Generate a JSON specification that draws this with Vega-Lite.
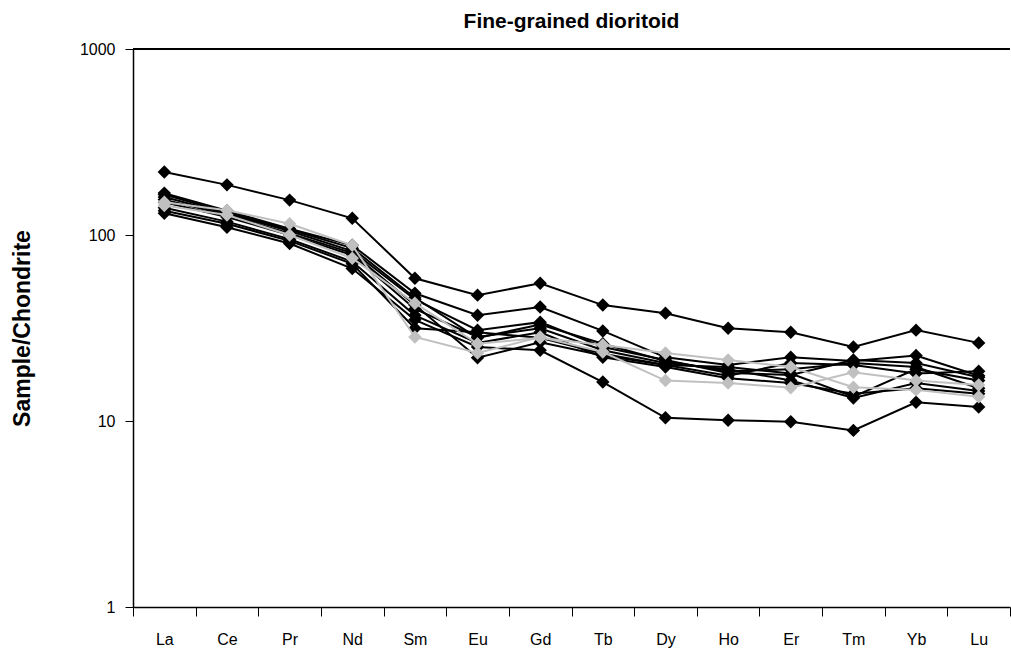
{
  "$schema": "https://vega.github.io/schema/vega-lite/v6.json",
  "autosize": "none",
  "width": 877,
  "height": 558,
  "padding": {"left": 133, "top": 49, "right": 1, "bottom": 46},
  "background": "white",
  "config": {
    "view": {"stroke": null},
    "font": "Liberation Sans",
    "axis": {"labelFont": "Liberation Sans", "titleFont": "Liberation Sans", "labelColor": "black", "titleColor": "black", "domainColor": "black", "tickColor": "black", "labelFontSize": 16, "grid": false, "domainWidth": 1.5}
  },
  "title": {"text": "Fine-grained dioritoid", "fontSize": 21, "fontWeight": "bold", "font": "Liberation Sans", "color": "black", "anchor": "middle", "frame": "group", "dx": 0, "dy": 29, "offset": 17, "baseline": "bottom"},
  "data": {"values": [
    {"s":"D1","el":"La","v":218},{"s":"D1","el":"Ce","v":186},{"s":"D1","el":"Pr","v":154},{"s":"D1","el":"Nd","v":123},{"s":"D1","el":"Sm","v":58.5},{"s":"D1","el":"Eu","v":47.5},{"s":"D1","el":"Gd","v":55},{"s":"D1","el":"Tb","v":42},{"s":"D1","el":"Dy","v":38},{"s":"D1","el":"Ho","v":31.5},{"s":"D1","el":"Er","v":30},{"s":"D1","el":"Tm","v":25},{"s":"D1","el":"Yb","v":30.8},{"s":"D1","el":"Lu","v":26.3},
    {"s":"D2","el":"La","v":131},{"s":"D2","el":"Ce","v":110},{"s":"D2","el":"Pr","v":90},{"s":"D2","el":"Nd","v":66},{"s":"D2","el":"Sm","v":35},{"s":"D2","el":"Eu","v":25},{"s":"D2","el":"Gd","v":24},{"s":"D2","el":"Tb","v":16.2},{"s":"D2","el":"Dy","v":10.4},{"s":"D2","el":"Ho","v":10.1},{"s":"D2","el":"Er","v":9.9},{"s":"D2","el":"Tm","v":8.9},{"s":"D2","el":"Yb","v":12.6},{"s":"D2","el":"Lu","v":11.9},
    {"s":"D3","el":"La","v":168},{"s":"D3","el":"Ce","v":135},{"s":"D3","el":"Pr","v":108},{"s":"D3","el":"Nd","v":88},{"s":"D3","el":"Sm","v":48.6},{"s":"D3","el":"Eu","v":37},{"s":"D3","el":"Gd","v":41},{"s":"D3","el":"Tb","v":30.5},{"s":"D3","el":"Dy","v":22},{"s":"D3","el":"Ho","v":20},{"s":"D3","el":"Er","v":22},{"s":"D3","el":"Tm","v":21},{"s":"D3","el":"Yb","v":22.5},{"s":"D3","el":"Lu","v":17.5},
    {"s":"D4","el":"La","v":160},{"s":"D4","el":"Ce","v":130},{"s":"D4","el":"Pr","v":105},{"s":"D4","el":"Nd","v":82},{"s":"D4","el":"Sm","v":45},{"s":"D4","el":"Eu","v":30.8},{"s":"D4","el":"Gd","v":34},{"s":"D4","el":"Tb","v":25},{"s":"D4","el":"Dy","v":21.3},{"s":"D4","el":"Ho","v":18.1},{"s":"D4","el":"Er","v":17.7},{"s":"D4","el":"Tm","v":21.3},{"s":"D4","el":"Yb","v":20.5},{"s":"D4","el":"Lu","v":17.2},
    {"s":"D5","el":"La","v":150},{"s":"D5","el":"Ce","v":125},{"s":"D5","el":"Pr","v":100},{"s":"D5","el":"Nd","v":78},{"s":"D5","el":"Sm","v":40},{"s":"D5","el":"Eu","v":28.3},{"s":"D5","el":"Gd","v":31.5},{"s":"D5","el":"Tb","v":24},{"s":"D5","el":"Dy","v":20.5},{"s":"D5","el":"Ho","v":19},{"s":"D5","el":"Er","v":16.5},{"s":"D5","el":"Tm","v":13.3},{"s":"D5","el":"Yb","v":16},{"s":"D5","el":"Lu","v":14.5},
    {"s":"D6","el":"La","v":140},{"s":"D6","el":"Ce","v":118},{"s":"D6","el":"Pr","v":95},{"s":"D6","el":"Nd","v":72},{"s":"D6","el":"Sm","v":37},{"s":"D6","el":"Eu","v":26.3},{"s":"D6","el":"Gd","v":30},{"s":"D6","el":"Tb","v":22},{"s":"D6","el":"Dy","v":19.5},{"s":"D6","el":"Ho","v":17},{"s":"D6","el":"Er","v":16},{"s":"D6","el":"Tm","v":14},{"s":"D6","el":"Yb","v":15},{"s":"D6","el":"Lu","v":14},
    {"s":"D7","el":"La","v":135},{"s":"D7","el":"Ce","v":115},{"s":"D7","el":"Pr","v":93},{"s":"D7","el":"Nd","v":70},{"s":"D7","el":"Sm","v":31.5},{"s":"D7","el":"Eu","v":30},{"s":"D7","el":"Gd","v":28},{"s":"D7","el":"Tb","v":23},{"s":"D7","el":"Dy","v":20},{"s":"D7","el":"Ho","v":17.5},{"s":"D7","el":"Er","v":20.5},{"s":"D7","el":"Tm","v":20},{"s":"D7","el":"Yb","v":18},{"s":"D7","el":"Lu","v":18.5},
    {"s":"D8","el":"La","v":155},{"s":"D8","el":"Ce","v":128},{"s":"D8","el":"Pr","v":102},{"s":"D8","el":"Nd","v":80},{"s":"D8","el":"Sm","v":42},{"s":"D8","el":"Eu","v":21.9},{"s":"D8","el":"Gd","v":26.5},{"s":"D8","el":"Tb","v":22.5},{"s":"D8","el":"Dy","v":20},{"s":"D8","el":"Ho","v":19.5},{"s":"D8","el":"Er","v":18},{"s":"D8","el":"Tm","v":13.5},{"s":"D8","el":"Yb","v":19},{"s":"D8","el":"Lu","v":16.5},
    {"s":"D9","el":"La","v":165},{"s":"D9","el":"Ce","v":132},{"s":"D9","el":"Pr","v":107},{"s":"D9","el":"Nd","v":85},{"s":"D9","el":"Sm","v":46},{"s":"D9","el":"Eu","v":28},{"s":"D9","el":"Gd","v":33},{"s":"D9","el":"Tb","v":26},{"s":"D9","el":"Dy","v":21},{"s":"D9","el":"Ho","v":18.5},{"s":"D9","el":"Er","v":19},{"s":"D9","el":"Tm","v":20.5},{"s":"D9","el":"Yb","v":19.5},{"s":"D9","el":"Lu","v":15},
    {"s":"G1","el":"La","v":150},{"s":"G1","el":"Ce","v":136},{"s":"G1","el":"Pr","v":115},{"s":"G1","el":"Nd","v":88},{"s":"G1","el":"Sm","v":28.3},{"s":"G1","el":"Eu","v":23.2},{"s":"G1","el":"Gd","v":28.3},{"s":"G1","el":"Tb","v":23.5},{"s":"G1","el":"Dy","v":16.5},{"s":"G1","el":"Ho","v":16},{"s":"G1","el":"Er","v":15.1},{"s":"G1","el":"Tm","v":18.3},{"s":"G1","el":"Yb","v":16.5},{"s":"G1","el":"Lu","v":15.6},
    {"s":"G2","el":"La","v":144},{"s":"G2","el":"Ce","v":128},{"s":"G2","el":"Pr","v":100},{"s":"G2","el":"Nd","v":75},{"s":"G2","el":"Sm","v":43},{"s":"G2","el":"Eu","v":26},{"s":"G2","el":"Gd","v":28},{"s":"G2","el":"Tb","v":25.6},{"s":"G2","el":"Dy","v":23.2},{"s":"G2","el":"Ho","v":21.3},{"s":"G2","el":"Er","v":19.5},{"s":"G2","el":"Tm","v":15.2},{"s":"G2","el":"Yb","v":14.7},{"s":"G2","el":"Lu","v":13.5}
  ]},
  "encoding": {
    "x": {"field": "el", "type": "nominal", "sort": ["La","Ce","Pr","Nd","Sm","Eu","Gd","Tb","Dy","Ho","Er","Tm","Yb","Lu"],
      "scale": {"paddingInner": 0, "paddingOuter": 0},
      "axis": {"title": null, "labelAngle": 0, "tickBand": "extent", "tickSize": 9, "labelFontSize": 16, "labelPadding": 15, "grid": false, "domainWidth": 1.5, "tickWidth": 1}},
    "y": {"field": "v", "type": "quantitative",
      "scale": {"type": "log", "domain": [1, 1000], "nice": false},
      "axis": {"values": [1, 10, 100, 1000], "format": "d", "tickSize": 8, "labelFontSize": 16, "labelPadding": 10, "grid": false, "domainWidth": 1.5,
        "title": "Sample/Chondrite", "titleFontSize": 23, "titleFontWeight": "bold", "titleX": -104, "titleY": 279, "titleBaseline": "alphabetic", "titleAlign": "center", "titleAngle": -90}}
  },
  "layer": [
    {"transform": [{"filter": {"not": {"field": "s", "oneOf": ["G1", "G2"]}}}],
     "mark": {"type": "line", "color": "black", "strokeWidth": 2, "point": {"shape": "diamond", "size": 180, "filled": true, "color": "black", "opacity": 1}},
     "encoding": {"detail": {"field": "s"}}},
    {"transform": [{"filter": {"field": "s", "oneOf": ["G1", "G2"]}}],
     "mark": {"type": "line", "color": "#C0C0C0", "strokeWidth": 2, "point": {"shape": "diamond", "size": 180, "filled": true, "color": "#C0C0C0", "opacity": 1}},
     "encoding": {"detail": {"field": "s"}}},
    {"mark": {"type": "rule", "color": "black", "strokeWidth": 1.5}, "encoding": {"x": {"value": 0}, "x2": {"value": 877}, "y": {"datum": 1000}}}
  ]
}
